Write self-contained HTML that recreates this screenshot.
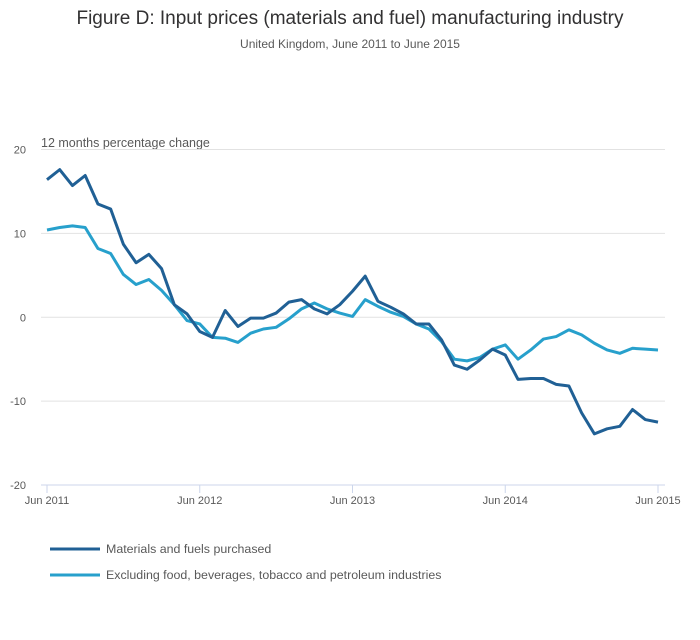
<!DOCTYPE html>
<html><head><meta charset="utf-8"><style>
body{margin:0;background:#fff;font-family:"Liberation Sans",sans-serif;}
svg text{font-family:"Liberation Sans",sans-serif;}
</style></head><body>
<svg id="chart" width="700" height="635" viewBox="0 0 700 635">
<text x="350" y="24" text-anchor="middle" font-size="19" fill="#323132">Figure D: Input prices (materials and fuel) manufacturing industry</text>
<text x="350" y="48" text-anchor="middle" font-size="12" fill="#595959">United Kingdom, June 2011 to June 2015</text>
<text x="41" y="147" font-size="12.5" fill="#595959">12 months percentage change</text>
<g id="grid"></g><g id="axes"></g><g id="series"></g>
<g>
<line x1="50" y1="549" x2="100" y2="549" stroke="#206095" stroke-width="3"/>
<text x="106" y="553" font-size="12.4" fill="#595959">Materials and fuels purchased</text>
<line x1="50" y1="575" x2="100" y2="575" stroke="#27a0cc" stroke-width="3"/>
<text x="106" y="579" font-size="12.4" fill="#595959">Excluding food, beverages, tobacco and petroleum industries</text>
</g>
</svg>
<script>
const yTicks=[20,10,0,-10,-20];
const xTickLabels=["Jun 2011","Jun 2012","Jun 2013","Jun 2014","Jun 2015"];
const xTickMonths=[0,12,24,36,48];
const materials=[16.4,17.6,15.7,16.9,13.5,12.9,8.7,6.5,7.5,5.8,1.5,0.4,-1.7,-2.4,0.8,-1.1,-0.1,-0.1,0.5,1.8,2.1,1.0,0.4,1.5,3.1,4.9,1.9,1.2,0.4,-0.8,-0.8,-2.7,-5.7,-6.2,-5.1,-3.8,-4.5,-7.4,-7.3,-7.3,-8.0,-8.2,-11.4,-13.9,-13.3,-13.0,-11.0,-12.2,-12.5];
const excluding=[10.4,10.7,10.9,10.7,8.2,7.6,5.1,3.9,4.5,3.2,1.5,-0.4,-0.8,-2.4,-2.5,-3.0,-1.9,-1.4,-1.2,-0.2,1.0,1.7,1.0,0.5,0.1,2.1,1.3,0.6,0.1,-0.8,-1.4,-2.9,-5.0,-5.2,-4.8,-3.8,-3.3,-5.0,-3.9,-2.6,-2.3,-1.5,-2.1,-3.1,-3.9,-4.3,-3.7,-3.8,-3.9];
const NS="http://www.w3.org/2000/svg";
const x0=47,x1=658,yTop=149.5,yBot=485;
const xs=m=>x0+(x1-x0)*m/48;
const ys=v=>yBot-(v+20)/40*(yBot-yTop);
function mk(t,a,p){const e=document.createElementNS(NS,t);for(const k in a)e.setAttribute(k,a[k]);p.appendChild(e);return e;}
const grid=document.getElementById('grid'),axes=document.getElementById('axes'),ser=document.getElementById('series');
yTicks.forEach(v=>{
 if(v>-20){const l=mk('line',{x1:41,x2:665,y1:ys(v),y2:ys(v),stroke:'#e2e2e2','stroke-width':1},grid);
 
 }
 const t=mk('text',{x:26,y:ys(v)+4,'text-anchor':'end','font-size':11,fill:'#595959'},axes);
 t.textContent=v;
 
 
});
const ax=mk('line',{x1:41,x2:665,y1:yBot,y2:yBot,stroke:'#ccd6eb','stroke-width':1},axes);


xTickMonths.forEach((m,i)=>{
 const tk=mk('line',{x1:xs(m),x2:xs(m),y1:yBot,y2:yBot+8,stroke:'#ccd6eb'},axes);
 
 
 const t=mk('text',{x:xs(m),y:yBot+19,'text-anchor':'middle','font-size':11,fill:'#595959'},axes);
 t.textContent=xTickLabels[i];
 
 
});
function line(d,c,n){
 const p=mk('polyline',{points:d.map((v,i)=>xs(i)+','+ys(v)).join(' '),fill:'none',stroke:c,'stroke-width':3,'stroke-linejoin':'round'},ser);
 
 
}
line(excluding,'#27a0cc','series-excluding-line');
line(materials,'#206095','series-materials-line');
</script>
</body></html>
